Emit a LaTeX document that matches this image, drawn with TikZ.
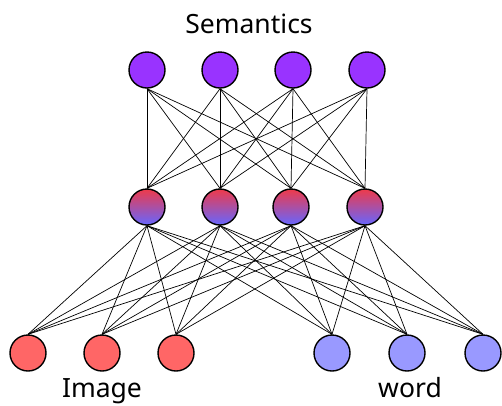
\documentclass[tikz,border=0pt]{standalone}
\usepackage{fontspec}
\setmainfont{Noto Sans}
\definecolor{sem}{HTML}{9933FF}
\definecolor{img}{HTML}{FF6666}
\definecolor{wrd}{HTML}{9999FF}
\definecolor{hidtop}{HTML}{EE3A4A}
\definecolor{hidbot}{HTML}{6666FF}
\pgfdeclarelayer{bg}
\pgfsetlayers{bg,main}
\begin{document}
\begin{tikzpicture}[x=1pt,y=-1pt,
  neuron/.style={circle,draw=black,line width=1.4pt,minimum size=36pt,inner sep=0pt},
  semn/.style={neuron,fill=sem},
  hidn/.style={neuron,top color=hidtop,bottom color=hidbot},
  imgn/.style={neuron,fill=img},
  wrdn/.style={neuron,fill=wrd},
  link/.style={draw=black,line width=0.7pt},
  lbl/.style={font=\fontsize{26.5}{30}\selectfont,inner sep=0pt,anchor=base}]
\useasboundingbox (0,0) rectangle (502,405);
% nodes
\foreach \i/\x in {1/147,2/220,3/293,4/367}{
  \node[semn] (s\i) at (\x,70) {};
}
\foreach \i/\x in {1/147,2/220,3/291,4/365}{
  \node[hidn] (h\i) at (\x,207) {};
}
\foreach \i/\x in {1/28,2/102,3/176}{
  \node[imgn] (b\i) at (\x,353) {};
}
\foreach \i/\x in {4/332,5/407,6/483}{
  \node[wrdn] (b\i) at (\x,353) {};
}
% links
\begin{pgfonlayer}{bg}
\foreach \a in {1,...,4}{
  \foreach \b in {1,...,4}{
    \path[link] (s\a.south) -- (h\b.north);
  }
  \foreach \b in {1,...,6}{
    \path[link] (h\a.south) -- (b\b.north);
  }
}
\end{pgfonlayer}
% labels
\node[lbl] (tsem) at (249,33) {Semantics};
\node[lbl] (timg) at (102,397.5) {Image};
\node[lbl] (twrd) at (410,397.5) {word};
\end{tikzpicture}
\end{document}
